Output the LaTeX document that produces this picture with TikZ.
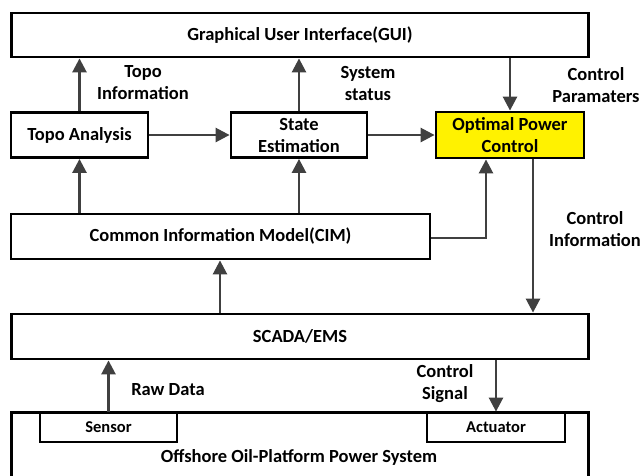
\documentclass[tikz,border=0pt]{standalone}
\usepackage{fontspec}
\setmainfont{Carlito}
\usetikzlibrary{arrows.meta,calc}
\definecolor{arr}{HTML}{404040}
\tikzset{
  box/.style={draw=black,line width=2.8pt,rectangle,inner sep=0pt,font=\bfseries\fontsize{18.5}{22}\selectfont,align=center},
  smallbox/.style={box,font=\bfseries\fontsize{16.5}{19}\selectfont},
  lbl/.style={font=\bfseries\fontsize{18.5}{22}\selectfont,align=center,inner sep=0pt},
  conn/.style={draw=arr,line width=2.6pt,-{Triangle[length=14pt,width=14pt]}},
}
\begin{document}
\begin{tikzpicture}[x=1pt,y=-1pt]
\useasboundingbox (0,0) rectangle (643,475);
\node[box,minimum width=577pt,minimum height=44pt] (gui) at (300,35) {Graphical User Interface(GUI)};
\node[box,minimum width=137pt,minimum height=45pt] (topo) at (79.5,135) {Topo Analysis};
\node[box,minimum width=136pt,minimum height=45pt] (se) at (299,135) {State\\Estimation};
\node[box,fill=yellow,minimum width=148pt,minimum height=46pt] (opc) at (510,135) {Optimal Power\\Control};
\node[box,minimum width=419pt,minimum height=45pt] (cim) at (220.5,236.5) {Common Information Model(CIM)};
\node[box,minimum width=577pt,minimum height=45pt] (scada) at (300,336.5) {SCADA/EMS};
\node[minimum width=577pt,minimum height=80pt,inner sep=0pt] (plat) at (300,453) {};
\draw[line width=2.8pt] (plat.south west) |- (plat.north east) -- (plat.south east);
\node[lbl] (platlbl) at (299,457) {Offshore Oil-Platform Power System};
\node[smallbox,minimum width=137pt,minimum height=29pt] (sensor) at (108.5,427.5) {Sensor};
\node[smallbox,minimum width=138pt,minimum height=29pt] (act) at (496,427.5) {Actuator};
% connectors
\draw[conn] (topo.north) -- (topo.north |- gui.south);
\draw[conn] (se.north) -- (se.north |- gui.south);
\draw[conn] (topo.east) -- (se.west);
\draw[conn] (se.east) -- (opc.west);
\draw[conn] (opc.north |- gui.south) -- (opc.north);
\draw[conn] (topo.south |- cim.north) -- (topo.south);
\draw[conn] (se.south |- cim.north) -- (se.south);
\coordinate (cimc) at (486,238);
\draw[conn] (cim.east |- cimc) -| (cimc |- opc.south);
\draw[conn] (220,0 |- scada.north) -- (220,0 |- cim.south);
\coordinate (opcd) at (533,0);
\draw[conn] (opcd |- opc.south) -- (opcd |- scada.north);
\draw[conn] (sensor.north) -- (sensor.north |- scada.south);
\draw[conn] (act.north |- scada.south) -- (act.north);
% labels
\node[lbl] (l1) at (143,83) {Topo\\Information};
\node[lbl] (l2) at (368,83) {System\\status};
\node[lbl] (l3) at (596,85) {Control\\Paramaters};
\node[lbl] (l4) at (595,229) {Control\\Information};
\node[lbl] (l5) at (168,390) {Raw Data};
\node[lbl] (l6) at (445,384) {Control\\Signal};
\end{tikzpicture}
\end{document}
